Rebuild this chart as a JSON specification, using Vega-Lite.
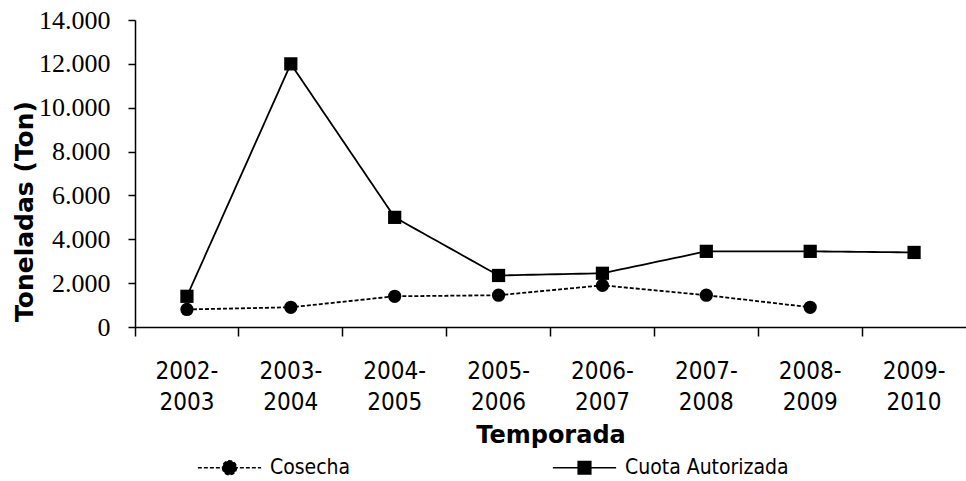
{
  "$schema": "https://vega.github.io/schema/vega-lite/v6.json",
  "width": 831,
  "height": 307,
  "autosize": {"type": "none"},
  "padding": {"left": 135, "top": 20, "right": 0, "bottom": 154},
  "background": "white",
  "config": {"view": {"stroke": null}},
  "data": {
    "values": [
      {"temporada": "2002-2003", "serie": "Cosecha", "ton": 800},
      {"temporada": "2003-2004", "serie": "Cosecha", "ton": 900},
      {"temporada": "2004-2005", "serie": "Cosecha", "ton": 1400},
      {"temporada": "2005-2006", "serie": "Cosecha", "ton": 1450},
      {"temporada": "2006-2007", "serie": "Cosecha", "ton": 1900},
      {"temporada": "2007-2008", "serie": "Cosecha", "ton": 1450},
      {"temporada": "2008-2009", "serie": "Cosecha", "ton": 900},
      {"temporada": "2002-2003", "serie": "Cuota Autorizada", "ton": 1400},
      {"temporada": "2003-2004", "serie": "Cuota Autorizada", "ton": 12000},
      {"temporada": "2004-2005", "serie": "Cuota Autorizada", "ton": 5000},
      {"temporada": "2005-2006", "serie": "Cuota Autorizada", "ton": 2350},
      {"temporada": "2006-2007", "serie": "Cuota Autorizada", "ton": 2450},
      {"temporada": "2007-2008", "serie": "Cuota Autorizada", "ton": 3450},
      {"temporada": "2008-2009", "serie": "Cuota Autorizada", "ton": 3450},
      {"temporada": "2009-2010", "serie": "Cuota Autorizada", "ton": 3400}
    ]
  },
  "encoding": {
    "x": {
      "field": "temporada",
      "type": "ordinal",
      "sort": null,
      "scale": {"type": "band", "paddingInner": 0, "paddingOuter": 0},
      "axis": {
        "title": "Temporada",
        "titleFont": "DejaVu Sans",
        "titleFontWeight": "bold",
        "titleFontSize": 24,
        "titleColor": "black",
        "titlePadding": 9,
        "labelAngle": 0,
        "labelFont": "DejaVu Sans Condensed",
        "labelFontSize": 24,
        "labelColor": "black",
        "labelExpr": "[slice(datum.value, 0, 5), slice(datum.value, 5)]",
        "labelLineHeight": 31,
        "labelPadding": 23,
        "labelBaseline": "top",
        "bandPosition": 0,
        "labelDx": 52,
        "tickSize": 9,
        "tickColor": "black",
        "tickWidth": 1.5,
        "domainColor": "black",
        "domainWidth": 1.5,
        "grid": false
      }
    },
    "y": {
      "field": "ton",
      "type": "quantitative",
      "scale": {"domain": [0, 14000], "nice": false},
      "axis": {
        "title": "Toneladas (Ton)",
        "titleFont": "DejaVu Sans",
        "titleFontWeight": "bold",
        "titleFontSize": 25,
        "titleColor": "black",
        "titleX": -98,
        "titleY": 191,
        "values": [0, 2000, 4000, 6000, 8000, 10000, 12000, 14000],
        "labelExpr": "replace(format(datum.value, ','), ',', '.')",
        "labelFont": "Liberation Serif",
        "labelFontSize": 26,
        "labelColor": "black",
        "labelPadding": 18,
        "tickSize": 7,
        "tickColor": "black",
        "tickWidth": 1.5,
        "domainColor": "black",
        "domainWidth": 1.5,
        "grid": false
      }
    }
  },
  "layer": [
    {
      "mark": {"type": "line", "color": "black", "strokeWidth": 1.8},
      "encoding": {
        "strokeDash": {
          "field": "serie",
          "type": "nominal",
          "scale": {"domain": ["Cosecha", "Cuota Autorizada"], "range": [[4, 2], [8, 0]]},
          "legend": {
            "title": null,
            "orient": "none",
            "direction": "horizontal",
            "legendX": 62,
            "legendY": 415,
            "padding": 0,
            "columnPadding": 198,
            "labelFont": "DejaVu Sans Condensed",
            "labelFontSize": 21,
            "labelColor": "black",
            "labelOffset": 8,
            "labelLimit": 400,
            "symbolSize": 4000,
            "symbolStrokeWidth": 1.5,
            "symbolStrokeColor": "black",
            "symbolFillColor": "black",
            "encode": {
              "symbols": {
                "update": {
                  "shape": {"signal": "datum.value === 'Cosecha' ? 'M-1,0H1M-0.22,0A0.22,0.22 0 1,0 0.22,0A0.22,0.22 0 1,0 -0.22,0Z' : 'M-1,0H1M-0.2,-0.2H0.2V0.2H-0.2Z'"},
                  "fill": {"value": "black"},
                  "stroke": {"value": "black"}
                }
              }
            }
          }
        }
      }
    },
    {
      "transform": [{"filter": "datum.serie === 'Cosecha'"}],
      "mark": {"type": "point", "filled": true, "color": "black", "opacity": 1, "size": 175, "shape": "circle"}
    },
    {
      "transform": [{"filter": "datum.serie === 'Cuota Autorizada'"}],
      "mark": {"type": "point", "filled": true, "color": "black", "opacity": 1, "size": 175, "shape": "square"}
    }
  ]
}
